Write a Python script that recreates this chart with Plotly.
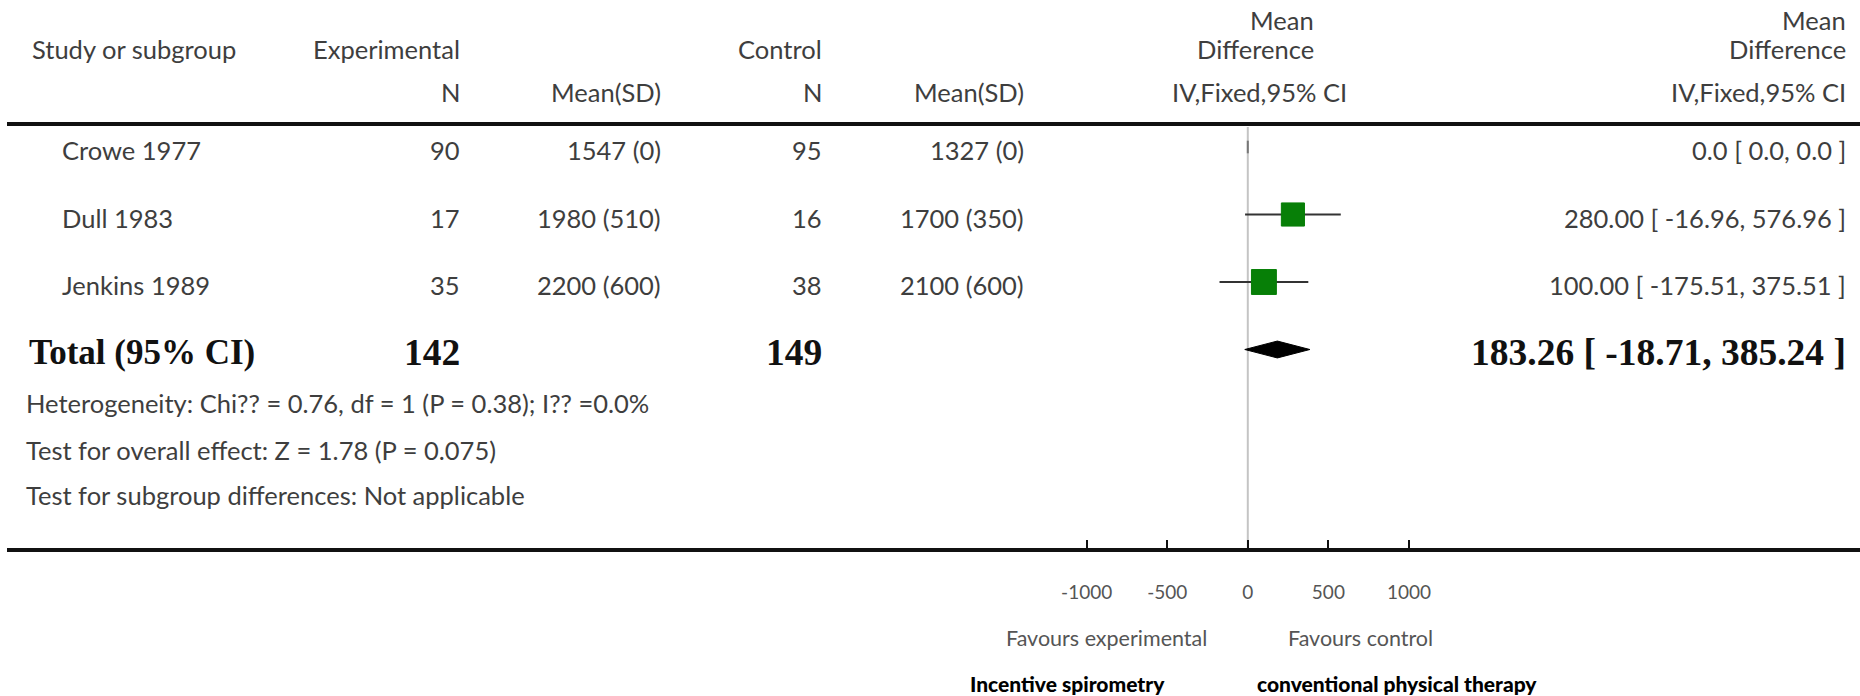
import plotly.graph_objects as go

# ---- study data -------------------------------------------------------------
studies = ["Crowe 1977", "Dull 1983", "Jenkins 1989"]
exp_n = [90, 17, 35]
exp_mean = [1547, 1980, 2200]
exp_sd = [0, 510, 600]
ctrl_n = [95, 16, 38]
ctrl_mean = [1327, 1700, 2100]
ctrl_sd = [0, 350, 600]
md = [0.0, 280.00, 100.00]
ci_low = [0.0, -16.96, -175.51]
ci_high = [0.0, 576.96, 375.51]
md_decimals = [1, 2, 2]

total_exp_n = 142
total_ctrl_n = 149
total_md = 183.26
total_low = -18.71
total_high = 385.24

tick_vals = [-1000, -500, 0, 500, 1000]
tick_text = ["-1000", "-500", "0", "500", "1000"]

heterogeneity = "Heterogeneity: Chi?? = 0.76, df = 1 (P = 0.38); I?? =0.0%"
overall_effect = "Test for overall effect: Z = 1.78 (P = 0.075)"
subgroup_diff = "Test for subgroup differences: Not applicable"
favours_left = "Favours experimental"
favours_right = "Favours control"
group_left = "Incentive spirometry"
group_right = "conventional physical therapy"

# ---- page geometry (pixels) -------------------------------------------------
W, H = 1860, 696
ROW0, STEP = 147, 67.5        # first study row and row spacing
ZERO_PX, PX_PER_1000 = 1247.8, 161.15
PANEL = (1040, 1460)          # horizontal extent of the forest x-axis
AXIS_PX = 550
TOP_RULE_PX = 124

units_per_px = 1000.0 / PX_PER_1000
x_range = [(PANEL[0] - ZERO_PX) * units_per_px, (PANEL[1] - ZERO_PX) * units_per_px]
y_range = [(H - ROW0) / STEP, -ROW0 / STEP]


def px(x):
    return x / W


def py(y):
    return 1 - y / H


SANS = "Lato, 'Open Sans', sans-serif"
SERIF = "'Liberation Serif', 'Times New Roman', serif"
REG = dict(family=SANS, size=25.5, color="#3e3e3e")
BOLD_LABEL = dict(family=SERIF, size=35, color="#111111", weight="bold")
BOLD_NUM = dict(family=SERIF, size=37.5, color="#111111", weight="bold")
TICK = dict(family=SANS, size=19, color="#555555")
FAV = dict(family=SANS, size=21.5, color="#555555")
GROUP = dict(family=SANS, size=21, color="#000000", weight=900)

fig = go.Figure()

# inverse-variance weights set the square sizes
var = [(es ** 2) / en + (cs ** 2) / cn for es, en, cs, cn in zip(exp_sd, exp_n, ctrl_sd, ctrl_n)]
w = [1.0 / v if v > 0 else 0.0 for v in var]
w_share = [wi / sum(w) for wi in w]

rows = list(range(len(studies)))
total_row = len(studies)

# confidence interval whiskers
for i in rows:
    if ci_high[i] > ci_low[i]:
        fig.add_trace(go.Scatter(
            x=[ci_low[i], ci_high[i]], y=[i, i], mode="lines",
            line=dict(color="#333333", width=2), hoverinfo="skip", showlegend=False))

# non-estimable study drawn as a short tick on its estimate
fig.add_trace(go.Scatter(
    x=[md[i] for i in rows if w[i] == 0], y=[i for i in rows if w[i] == 0],
    mode="markers", marker=dict(symbol="line-ns", size=9, opacity=1,
                                line=dict(color="#777777", width=2)),
    hoverinfo="skip", showlegend=False))

# study estimates
est = [i for i in rows if w[i] > 0]
fig.add_trace(go.Scatter(
    x=[md[i] for i in est], y=est, mode="markers",
    marker=dict(symbol="square", color="#077f07", opacity=1,
                size=[34 * (w_share[i] ** 0.5) for i in est],
                line=dict(color="#077f07", width=1)),
    hoverinfo="skip", showlegend=False))

# pooled estimate diamond
h = 0.125
fig.add_trace(go.Scatter(
    x=[total_low, total_md, total_high, total_md, total_low],
    y=[total_row, total_row - h, total_row, total_row + h, total_row],
    mode="lines", fill="toself", fillcolor="#000000",
    line=dict(color="#000000", width=1), hoverinfo="skip", showlegend=False))

# line of no effect
fig.add_shape(type="line", xref="x", yref="paper", x0=0, x1=0,
              y0=py(127), y1=py(AXIS_PX), line=dict(color="#c4c4c4", width=2), layer="below")

# table rules
for yy in (TOP_RULE_PX, AXIS_PX):
    fig.add_shape(type="line", xref="paper", yref="paper", x0=px(7), x1=1,
                  y0=py(yy), y1=py(yy), line=dict(color="#111111", width=4))

ann = []


def text(x, y, s, anchor, font):
    ann.append(dict(x=px(x), y=py(y), xref="paper", yref="paper", text=s,
                    xanchor=anchor, yanchor="middle", showarrow=False, font=font,
                    borderpad=0, borderwidth=0))


# header
H1, H2, H0 = 49, 92.5, 20
text(32, H1, "Study or subgroup", "left", REG)
text(460, H1, "Experimental", "right", REG)
text(460, H2, "N", "right", REG)
text(661, H2, "Mean(SD)", "right", REG)
text(822, H1, "Control", "right", REG)
text(822, H2, "N", "right", REG)
text(1024, H2, "Mean(SD)", "right", REG)
text(1314, H0, "Mean", "right", REG)
text(1314, H1, "Difference", "right", REG)
text(1347, H2, "IV,Fixed,95% CI", "right", REG)
text(1846, H0, "Mean", "right", REG)
text(1846, H1, "Difference", "right", REG)
text(1846, H2, "IV,Fixed,95% CI", "right", REG)

# study rows
for i in rows:
    y = ROW0 + STEP * i + 3
    d = md_decimals[i]
    text(62, y, studies[i], "left", REG)
    text(460, y, str(exp_n[i]), "right", REG)
    text(661, y, f"{exp_mean[i]} ({exp_sd[i]})", "right", REG)
    text(822, y, str(ctrl_n[i]), "right", REG)
    text(1024, y, f"{ctrl_mean[i]} ({ctrl_sd[i]})", "right", REG)
    text(1846, y, f"{md[i]:.{d}f} [ {ci_low[i]:.{d}f}, {ci_high[i]:.{d}f} ]", "right", REG)

# pooled row
yt = ROW0 + STEP * total_row + 3
text(29, yt, "Total (95% CI)", "left", BOLD_LABEL)
text(460, yt, str(total_exp_n), "right", BOLD_NUM)
text(822, yt, str(total_ctrl_n), "right", BOLD_NUM)
text(1846, yt, f"{total_md:.2f} [ {total_low:.2f}, {total_high:.2f} ]", "right", BOLD_NUM)

# footnotes
text(26, 403, heterogeneity, "left", REG)
text(26, 450, overall_effect, "left", REG)
text(26, 495, subgroup_diff, "left", REG)

# axis captions
text(1106, 638, favours_left, "center", FAV)
text(1360, 638, favours_right, "center", FAV)
text(1067, 683, group_left, "center", GROUP)
text(1397, 683, group_right, "center", GROUP)

fig.update_layout(
    width=W, height=H, autosize=False,
    margin=dict(l=0, r=0, t=0, b=0),
    paper_bgcolor="white", plot_bgcolor="white",
    annotations=ann,
    xaxis=dict(domain=[px(PANEL[0]), px(PANEL[1])], range=x_range,
               anchor="free", position=py(AXIS_PX), side="bottom",
               showgrid=False, zeroline=False, showline=False,
               ticks="inside", ticklen=10, tickwidth=2, tickcolor="#111111",
               tickvals=tick_vals, ticktext=tick_text, tickfont=TICK,
               ticklabelstandoff=29, fixedrange=True),
    yaxis=dict(domain=[0, 1], range=y_range, visible=False, fixedrange=True),
)

fig.write_html("out.html")
